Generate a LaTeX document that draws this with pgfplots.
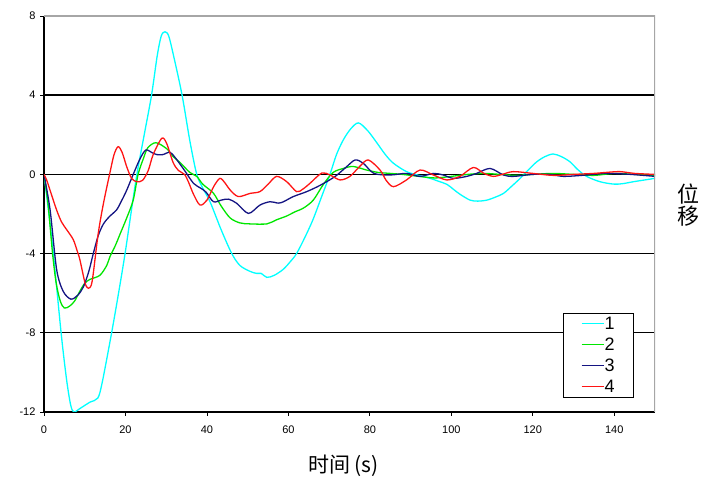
\documentclass[border=0pt]{standalone}
\usepackage{pgfplots}
\pgfplotsset{compat=1.18}
\usepackage{fontspec}
\setmainfont{Liberation Sans}
\newfontfamily\cjk{Noto Sans CJK SC}
\definecolor{cC}{RGB}{0,255,255}
\definecolor{cG}{RGB}{0,230,0}
\definecolor{cN}{RGB}{20,20,130}
\definecolor{cR}{RGB}{255,20,20}
\begin{document}
\begin{tikzpicture}
\begin{axis}[
  scale only axis, width=611pt, height=396pt,
  xmin=0, xmax=150, ymin=-12, ymax=8,
  axis lines=left,
  axis line style={-, black, line width=1.3pt},
  xtick={0,20,...,140}, ytick={-12,-8,...,8},
  tick align=outside, major tick length=4pt,
  tick style={black, line width=0.8pt},
  ymajorgrids, major grid style={black, line width=1.4pt},
  tick label style={font=\fontsize{11pt}{11pt}\selectfont},
  /pgf/number format/assume math mode=true,
  xticklabel style={yshift=-6pt},
  yticklabel style={xshift=-1pt},
  xlabel={\cjk 时间 (s)},
  xlabel style={at={(axis description cs:0.49,-0.136)}, anchor=center, font=\fontsize{21pt}{21pt}\selectfont},
  ylabel={\cjk\shortstack{位\\[-1pt]移}},
  ylabel style={rotate=-90, at={(axis description cs:1.054,0.523)}, anchor=center, font=\fontsize{22pt}{23pt}\selectfont},
  every axis plot/.append style={smooth, line width=1.3pt, no markers},
  legend cell align=left,
  legend image code/.code={\draw[#1, line width=1.3pt] (0pt,0pt) -- (22pt,0pt);},
  legend style={at={(axis description cs:0.849,0.036)}, anchor=south west,
    fill=white,
    font=\fontsize{18pt}{18pt}\selectfont,
    inner xsep=18pt, inner ysep=3pt, row sep=5.5pt,
    nodes={inner sep=0.5pt, text height=12.5pt, text depth=2pt}},
]
\coordinate (O) at (rel axis cs:0,0);
\addplot[cC] coordinates {
(0,0) (1.2,-2) (2.3,-4) (4.2,-8) (5.5,-10.3) (6.5,-11.6) (7.3,-12.0) (9,-11.8)
(11.3,-11.5) (13.2,-11.3) (14.3,-10.5) (16.6,-8.0) (18.3,-6.0) (19.9,-4.0)
(21.4,-1.9) (22.8,0) (24.6,2.0) (26.4,4.0) (27.8,6.0) (28.8,7.0) (29.7,7.2)
(30.6,7.0) (31.8,6.0) (33.9,4.0) (35.8,1.7) (37.5,0) (39,-0.7) (40.8,-1.4)
(43.5,-2.8) (46.1,-4.0) (48.1,-4.6) (50.6,-4.9) (52.2,-5.0) (53.3,-5.0)
(54.7,-5.2) (56.5,-5.1) (58.7,-4.8) (60.5,-4.4) (62,-4.0) (64,-3.2) (66,-2.3)
(68.2,-1.1) (70.2,0) (71.8,1.0) (73.5,1.75) (75.3,2.3) (77.2,2.6) (79.5,2.2)
(81.7,1.6) (83.8,1.0) (85.8,0.56) (89,0.14) (92,-0.05) (94.8,-0.2) (96.9,-0.35)
(98.9,-0.5) (100.5,-0.75) (102.1,-1.0) (104.6,-1.3) (106.5,-1.35) (108.7,-1.3)
(110.8,-1.15) (112.8,-0.96) (114.8,-0.6) (116.9,-0.2) (119,0.25) (121,0.64)
(123,0.9) (125,1.03) (127,0.9) (129.1,0.64) (131,0.25) (133.2,-0.1) (136.5,-0.37)
(139.8,-0.49) (142,-0.47) (144.7,-0.37) (147.5,-0.28) (150,-0.2)
};
\addlegendentry{1}
\addplot[cG] coordinates {
(0,0) (1,-1.5) (2.1,-4.0) (3,-5.5) (4,-6.4) (5.0,-6.75) (6.3,-6.65) (7.5,-6.4)
(8.8,-5.9) (10,-5.5) (11.3,-5.3) (13.7,-5.1) (15.4,-4.6) (16.2,-4.15) (17.5,-3.6)
(18.7,-3.0) (20.3,-2.2) (21.9,-1.3) (23.1,0) (24.4,0.8) (25.5,1.35) (27.5,1.6)
(30.1,1.3) (31.7,0.9) (33.4,0.6) (35.8,0.1) (37.5,-0.1) (39,-0.5) (41.6,-0.95)
(43.5,-1.6) (45.7,-2.2) (48.1,-2.45) (50.6,-2.5) (54.7,-2.5) (57,-2.3)
(59.6,-2.1) (61.5,-1.9) (63.7,-1.7) (66.1,-1.3) (68.6,-0.5) (71,0.1) (73.5,0.3)
(75.9,0.4) (79.2,0.22) (82,0.1) (85,0.05) (88,0) (92,-0.1) (96,-0.18) (100,-0.1)
(104,0) (108,0.05) (112,0) (116,-0.05) (120,0) (125,0.05) (130,0) (135,-0.05)
(140,0.05) (145,0) (150,-0.05)
};
\addlegendentry{2}
\addplot[cN] coordinates {
(0,0) (1.5,-1.8) (3.1,-4.8) (4.7,-5.9) (6.6,-6.3) (8.3,-6.1) (9.7,-5.67)
(11,-4.9) (12.1,-4.0) (13.3,-3.1) (14.6,-2.5) (16.2,-2.1) (17.8,-1.8) (19,-1.35)
(20.3,-0.8) (21.9,0) (23.6,0.8) (25,1.23) (26.5,1.1) (27.7,1.0) (29.2,1.0)
(30.9,1.12) (32.2,0.85) (34.5,0.2) (36.7,-0.45) (38.5,-0.7) (39.8,-0.9)
(41.6,-1.38) (43.5,-1.3) (45.3,-1.25) (47.3,-1.46) (50.2,-1.97) (53,-1.55)
(55.5,-1.38) (57.5,-1.45) (58.8,-1.38) (61.2,-1.12) (64.5,-0.87) (67.8,-0.55)
(71.5,-0.1) (74.3,0.39) (76.4,0.73) (78.4,0.56) (81,0.05) (85,-0.03) (89,0.05)
(92.3,-0.1) (95.6,0.05) (98,-0.03) (100.5,-0.2) (103.8,-0.1) (106.2,0.05)
(109.5,0.3) (112.8,-0.03) (115.2,-0.1) (120,0) (124,0) (127.5,-0.1) (132,-0.05)
(138,0.05) (144,0) (150,-0.1)
};
\addlegendentry{3}
\addplot[cR] coordinates {
(0,0) (0.65,-0.28) (1.8,-1.0) (3.1,-1.8) (4.3,-2.4) (5.6,-2.8) (7.2,-3.3)
(8.2,-3.9) (8.8,-4.3) (10.1,-5.5) (10.9,-5.75) (11.6,-5.6) (12.1,-5.0) (13.3,-3.0)
(14.6,-1.46) (16.2,0.1) (17.2,1.0) (18.2,1.4) (19.2,1.1) (20.3,0.39) (21.5,-0.2)
(22.8,-0.37) (24.2,-0.3) (25.6,0.2) (26.8,1.0) (28.9,1.82) (30.1,1.57)
(31.7,0.6) (33,0.2) (34.5,0.0) (35.5,-0.4) (36.7,-1.0) (38.3,-1.55) (40,-1.3)
(41.7,-0.6) (43.2,-0.2) (44.5,-0.45) (45.7,-0.79) (47.7,-1.12) (50.6,-0.96)
(53,-0.87) (55,-0.5) (57.1,-0.1) (59.6,-0.37) (62,-0.87) (63.5,-0.75)
(65.3,-0.45) (68.2,0.07) (70.2,-0.03) (72.7,-0.28) (75.1,-0.1) (77.5,0.4)
(79.6,0.73) (82.5,0.22) (84,-0.3) (85.8,-0.62) (89,-0.28) (92.3,0.22)
(95.6,-0.03) (98.9,-0.28) (102.1,-0.1) (105.4,0.35) (108,0.05) (110.3,-0.1)
(112.5,0) (115.2,0.14) (120,0.05) (125,-0.05) (130,0) (135,0.05) (138,0.1)
(141.4,0.14) (145,0.05) (150,0)
};
\addlegendentry{4}
\draw[gray!70, line width=1.3pt] (rel axis cs:0,1) -- (rel axis cs:1,1) -- (rel axis cs:1,0);
\end{axis}
\pgfresetboundingbox
\path (O) ++(-44pt,-66pt) rectangle ++(701pt,478pt);
\end{tikzpicture}
\end{document}
